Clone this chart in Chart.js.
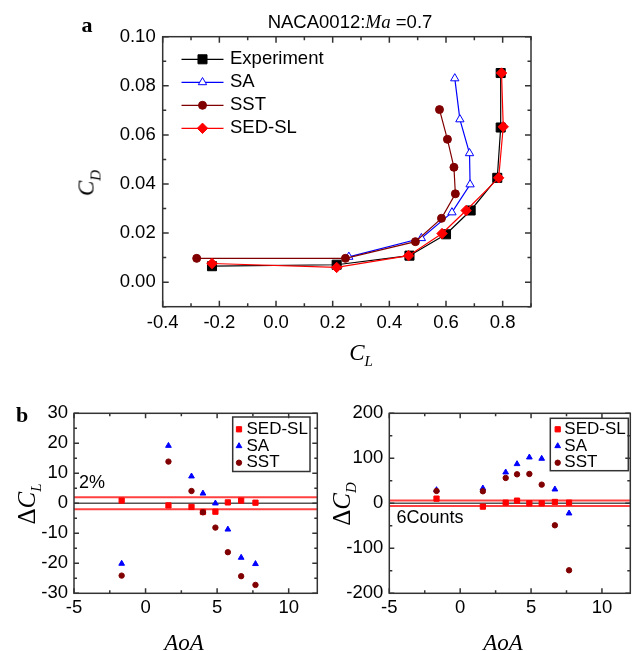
<!DOCTYPE html>
<html>
<head>
<meta charset="utf-8">
<script src="https://cdn.jsdelivr.net/npm/chart.js@4.4.1/dist/chart.umd.min.js"></script>
<style>
  html, body { margin: 0; padding: 0; background: #fff; }
  #page { position: relative; width: 635px; height: 651px; overflow: hidden;
          font-family: "Liberation Sans", Arial, sans-serif; color: #000; }
  canvas { position: absolute; }
  .t { position: absolute; white-space: nowrap; line-height: 1; transform: translate(-50%, -50%); }
  .rot { transform: translate(-50%, -50%) rotate(-90deg); }
  .math { font-family: "Liberation Serif", "Times New Roman", serif; font-style: italic; }
  .up { font-style: normal; }
  .panel { font-family: "Liberation Serif", "Times New Roman", serif; font-weight: bold; }
  sub { font-size: 15px; vertical-align: -0.45em; line-height: 0; }
</style>
</head>
<body>
<div id="page">
  <canvas id="polar" width="635" height="380" style="left:0;top:0"></canvas>
  <canvas id="dcl" width="322" height="271" style="left:0;top:380px"></canvas>
  <canvas id="dcd" width="313" height="271" style="left:322px;top:380px"></canvas>

  <div class="t panel" style="left:87px;top:25px;font-size:22px">a</div>
  <div class="t" style="left:350px;top:22px;font-size:18.5px">NACA0012:<span class="math" style="font-size:19px">Ma</span> =0.7</div>
  <div class="t math" style="left:361px;top:352px;font-size:23px">C<sub>L</sub></div>
  <div class="t math rot" style="left:86px;top:183px;font-size:23px">C<sub>D</sub></div>

  <div class="t panel" style="left:22px;top:415px;font-size:22px">b</div>
  <div class="t math rot" style="left:26px;top:504px;font-size:25px"><span class="up">Δ</span>C<sub>L</sub></div>
  <div class="t math rot" style="left:341px;top:504px;font-size:25px"><span class="up">Δ</span>C<sub>D</sub></div>
  <div class="t math" style="left:184px;top:642px;font-size:23px">AoA</div>
  <div class="t math" style="left:503px;top:642px;font-size:23px">AoA</div>
  <div class="t" style="left:92px;top:482px;font-size:18px">2%</div>
  <div class="t" style="left:430px;top:517px;font-size:18px">6Counts</div>
</div>

<script>
// ---- panel a: drag polar (CL on x, CD on y) ----
const expCL = [-0.226, 0.214, 0.471, 0.600, 0.687, 0.781, 0.793, 0.793];
const expCD = [0.0065, 0.0071, 0.0108, 0.0195, 0.0292, 0.0425, 0.0630, 0.0852];
const saCL  = [0.257, 0.513, 0.621, 0.685, 0.683, 0.649, 0.631];
const saCD  = [0.0103, 0.0179, 0.0284, 0.0398, 0.0525, 0.0663, 0.0830];
const sstCL = [-0.280, 0.245, 0.492, 0.584, 0.633, 0.628, 0.605, 0.577];
const sstCD = [0.0097, 0.0097, 0.0165, 0.0260, 0.0360, 0.0468, 0.0582, 0.0703];
const sedCL = [-0.226, 0.214, 0.468, 0.586, 0.671, 0.786, 0.802, 0.796];
const sedCD = [0.0076, 0.0060, 0.0108, 0.0198, 0.0292, 0.0425, 0.0633, 0.0852];

const clTicks = [-0.4, -0.2, 0.0, 0.2, 0.4, 0.6, 0.8];
const clMinor = [-0.3, -0.1, 0.1, 0.3, 0.5, 0.7, 0.9];
const cdTicks = [0.00, 0.02, 0.04, 0.06, 0.08, 0.10];
const cdMinor = [-0.01, 0.01, 0.03, 0.05, 0.07, 0.09];

// ---- panel b: errors vs angle of attack ----
const aoa    = [-1.67, 1.60, 3.21, 4.01, 4.88, 5.75, 6.68, 7.68];
const sedDCL = [0.9, -0.7, -1.2, -2.9, -2.8, 0.3, 0.9, 0.2];
const saDCL  = [-20.1, 19.2, 9.0, 3.3, 0.0, -8.7, -18.1, -20.2];
const sstDCL = [-24.1, 13.9, 4.1, -3.0, -8.1, -16.3, -24.3, -27.2];
const sedDCD = [10.4, -7.4, 1.5, 5.9, 0.0, 0.0, 3.0, 1.5];
const saDCD  = [29.6, 33.3, 68.9, 87.4, 102.2, 99.3, 31.1, -22.2];
const sstDCD = [27.4, 26.7, 56.3, 64.4, 65.2, 41.5, -48.9, -148.9];

const aoaTicks = [-5, 0, 5, 10];
const aoaMinor = [-2.5, 2.5, 7.5];
const dclTicks = [-30, -20, -10, 0, 10, 20, 30];
const dclMinor = [-25, -15, -5, 5, 15, 25];
const dcdTicks = [-200, -100, 0, 100, 200];
const dcdMinor = [-150, -50, 50, 150];
const dclBand = [-2, 2];   // 2% band
const dcdBand = [-6, 6];   // 6 counts band

const SANS = '"Liberation Sans", Arial, sans-serif';
const pairs = (xs, ys) => xs.map((x, i) => ({ x, y: ys[i] }));

// frame + inward ticks on all four sides
const frameTicks = {
  id: 'frameTicks',
  afterDraw(chart, args, o) {
    const { ctx, chartArea: a, scales: { x, y } } = chart;
    ctx.save();
    ctx.strokeStyle = '#333';
    ctx.lineWidth = 1.5;
    ctx.beginPath();
    const vt = (v, len) => {
      const p = x.getPixelForValue(v);
      ctx.moveTo(p, a.bottom); ctx.lineTo(p, a.bottom - len);
      ctx.moveTo(p, a.top); ctx.lineTo(p, a.top + len);
    };
    const ht = (v, len) => {
      const p = y.getPixelForValue(v);
      ctx.moveTo(a.left, p); ctx.lineTo(a.left + len, p);
      ctx.moveTo(a.right, p); ctx.lineTo(a.right - len, p);
    };
    o.xMajor.forEach(v => vt(v, o.major));
    o.xMinor.forEach(v => vt(v, o.minor));
    o.yMajor.forEach(v => ht(v, o.major));
    o.yMinor.forEach(v => ht(v, o.minor));
    ctx.stroke();
    ctx.strokeRect(a.left, a.top, a.width, a.height);
    ctx.restore();
  }
};

// zero line + tolerance band for panel b
const bands = {
  id: 'bands',
  beforeDatasetsDraw(chart, args, o) {
    if (!o.values) return;
    const { ctx, chartArea: a, scales: { y } } = chart;
    ctx.save();
    const hline = (v) => {
      const p = y.getPixelForValue(v);
      ctx.beginPath(); ctx.moveTo(a.left, p); ctx.lineTo(a.right, p); ctx.stroke();
    };
    ctx.strokeStyle = '#555'; ctx.lineWidth = 1.6;
    hline(0);
    ctx.strokeStyle = 'rgba(255, 30, 30, 0.85)'; ctx.lineWidth = 2;
    o.values.forEach(hline);
    ctx.restore();
  }
};

// legends drawn from the datasets' own styles
const markerLegend = {
  id: 'markerLegend',
  afterDraw(chart, args, o) {
    const { ctx } = chart;
    ctx.save();
    if (o.box) {
      ctx.strokeStyle = '#333'; ctx.lineWidth = 1.5;
      ctx.strokeRect(o.box[0], o.box[1], o.box[2] - o.box[0], o.box[3] - o.box[1]);
    }
    chart.data.datasets.forEach((ds, k) => {
      const y = o.y + k * o.dy;
      if (o.lineHalf) {
        ctx.strokeStyle = ds.borderColor; ctx.lineWidth = ds.borderWidth;
        ctx.beginPath(); ctx.moveTo(o.x - o.lineHalf, y); ctx.lineTo(o.x + o.lineHalf, y); ctx.stroke();
      }
      ctx.fillStyle = ds.pointBackgroundColor;
      ctx.strokeStyle = ds.pointBorderColor;
      ctx.lineWidth = ds.pointBorderWidth;
      Chart.helpers.drawPoint(ctx, {
        pointStyle: ds.pointStyle, radius: ds.pointRadius,
        borderWidth: ds.pointBorderWidth, rotation: 0
      }, o.x, y);
      ctx.fillStyle = '#000';
      ctx.font = o.font;
      ctx.textBaseline = 'middle';
      ctx.textAlign = 'left';
      ctx.fillText(ds.label, o.textX, y);
    });
    ctx.restore();
  }
};

function series(label, data, s) {
  return {
    label, data,
    showLine: !!s.line, borderColor: s.line || s.color, borderWidth: 1.2,
    pointStyle: s.style, pointRadius: s.r, pointHoverRadius: s.r,
    pointBackgroundColor: s.fill || s.color, pointBorderColor: s.color,
    pointBorderWidth: 1, order: s.order, tension: 0, fill: false
  };
}

function axis(min, max, major, fmt, fit, pad, size) {
  return {
    type: 'linear', min, max,
    afterBuildTicks: (s) => { s.ticks = major.map(v => ({ value: v })); },
    afterFit: fit,
    grid: { display: false, drawTicks: false },
    border: { display: false },
    ticks: { padding: pad, color: '#000', autoSkip: false, maxRotation: 0,
             font: { family: SANS, size }, callback: fmt }
  };
}

function makeChart(id, area, datasets, sc, plug) {
  const cv = document.getElementById(id);
  const W = cv.width, H = cv.height;
  return new Chart(cv, {
    type: 'scatter',
    data: { datasets },
    options: {
      responsive: false, animation: false, devicePixelRatio: 1,
      layout: { padding: { left: 0, top: area.top, right: W - area.right, bottom: 0 } },
      scales: {
        x: axis(sc.x[0], sc.x[1], sc.xMajor, sc.xFmt, s => { s.height = H - area.bottom; }, sc.xPad, sc.size),
        y: axis(sc.y[0], sc.y[1], sc.yMajor, sc.yFmt, s => { s.width = area.left; }, sc.yPad, sc.size)
      },
      plugins: Object.assign({ legend: { display: false }, tooltip: { enabled: false } }, plug)
    },
    plugins: [bands, frameTicks, markerLegend]
  });
}

// panel a
makeChart('polar', { left: 162.7, top: 36.7, right: 531, bottom: 306.7 }, [
  series('Experiment', pairs(expCL, expCD), { color: '#000000', line: '#000000', style: 'rect', r: 6.4, order: 3 }),
  series('SA', pairs(saCL, saCD), { color: '#0000ff', line: '#0000ff', fill: '#ffffff', style: 'triangle', r: 4.8, order: 2 }),
  series('SST', pairs(sstCL, sstCD), { color: '#800000', line: '#800000', style: 'circle', r: 4, order: 1 }),
  series('SED-SL', pairs(sedCL, sedCD), { color: '#ff0000', line: '#ff0000', style: 'rectRot', r: 5.2, order: 0 })
], {
  x: [-0.4, 0.9], y: [-0.01, 0.10], xMajor: clTicks, yMajor: cdTicks,
  xFmt: v => v.toFixed(1), yFmt: v => v.toFixed(2), xPad: 5, yPad: 7, size: 18.5
}, {
  frameTicks: { xMajor: clTicks, xMinor: clMinor, yMajor: cdTicks, yMinor: cdMinor, major: 6, minor: 3.5 },
  markerLegend: { x: 202.5, y: 59.3, dy: 23, lineHalf: 21, textX: 230, font: '18.5px ' + SANS }
});

const intFmt = v => String(v);

// panel b, left: lift error
makeChart('dcl', { left: 74, top: 33.3, right: 319, bottom: 213.3 }, [
  series('SED-SL', pairs(aoa, sedDCL), { color: '#ff0000', style: 'rect', r: 3.7, order: 2 }),
  series('SA', pairs(aoa, saDCL), { color: '#0000ff', style: 'triangle', r: 3.3, order: 1 }),
  series('SST', pairs(aoa, sstDCL), { color: '#800000', style: 'circle', r: 2.7, order: 0 })
], {
  x: [-5, 12], y: [-30, 30], xMajor: aoaTicks, yMajor: dclTicks,
  xFmt: intFmt, yFmt: intFmt, xPad: 4, yPad: 6, size: 18.5
}, {
  bands: { values: dclBand },
  frameTicks: { xMajor: aoaTicks, xMinor: aoaMinor, yMajor: dclTicks, yMinor: dclMinor, major: 5, minor: 3 },
  markerLegend: { box: [232.7, 37, 310, 91.5], x: 239, y: 49.3, dy: 16.7, textX: 246.5, font: '17px ' + SANS }
});

// panel b, right: drag error in counts
makeChart('dcd', { left: 67.3, top: 33.3, right: 312.5, bottom: 213.3 }, [
  series('SED-SL', pairs(aoa, sedDCD), { color: '#ff0000', style: 'rect', r: 3.7, order: 2 }),
  series('SA', pairs(aoa, saDCD), { color: '#0000ff', style: 'triangle', r: 3.3, order: 1 }),
  series('SST', pairs(aoa, sstDCD), { color: '#800000', style: 'circle', r: 2.7, order: 0 })
], {
  x: [-5, 12], y: [-200, 200], xMajor: aoaTicks, yMajor: dcdTicks,
  xFmt: intFmt, yFmt: intFmt, xPad: 4, yPad: 6, size: 18.5
}, {
  bands: { values: dcdBand },
  frameTicks: { xMajor: aoaTicks, xMinor: aoaMinor, yMajor: dcdTicks, yMinor: dcdMinor, major: 5, minor: 3 },
  markerLegend: { box: [228.3, 38.3, 306.3, 90.7], x: 235.7, y: 49.3, dy: 16.7, textX: 242.3, font: '17px ' + SANS }
});
</script>
</body>
</html>
